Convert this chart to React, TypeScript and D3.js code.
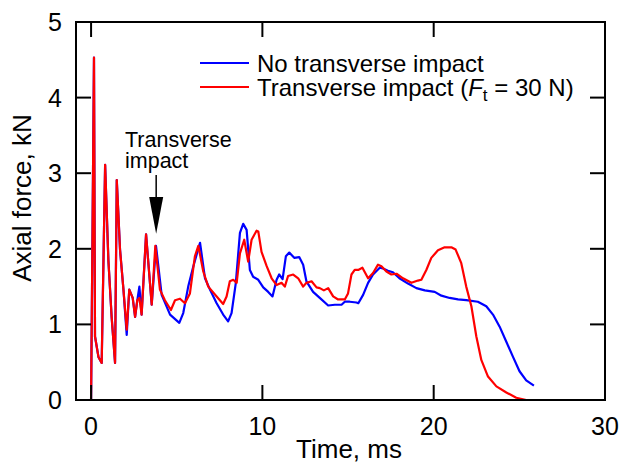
import React from "react";
import * as d3 from "d3";

// [time (ms), axial force (kN)]
const noImpact: [number, number][] = [
  [0, 0], [0.17, 4.53], [0.23, 0.84], [0.43, 0.57], [0.62, 0.49], [0.82, 3.11], [1.01, 1.85],
  [1.2, 1.1], [1.4, 0.49], [1.5, 2.91], [1.69, 1.99], [1.89, 1.46], [2.08, 0.86], [2.23, 1.46],
  [2.43, 1.35], [2.57, 1.1], [2.7, 1.32], [2.82, 1.5], [2.95, 1.13], [3.21, 2.19], [3.54, 1.26],
  [3.79, 2.04], [4.12, 1.39], [4.61, 1.13], [5.15, 1.02], [5.38, 1.15], [5.67, 1.5], [5.97, 1.77],
  [6.36, 2.08], [6.65, 1.61], [6.94, 1.46], [7.33, 1.28], [7.71, 1.13], [8.0, 1.04], [8.2, 1.15],
  [8.45, 1.55], [8.69, 2.21], [8.88, 2.33], [9.08, 2.25], [9.27, 1.72], [9.46, 1.63], [9.76, 1.59],
  [10.05, 1.49], [10.34, 1.43], [10.59, 1.37], [10.83, 1.59], [10.98, 1.66], [11.18, 1.6],
  [11.37, 1.9], [11.57, 1.95], [11.86, 1.88], [12.15, 1.89], [12.38, 1.79], [12.57, 1.57],
  [12.96, 1.43], [13.35, 1.35], [13.84, 1.25], [14.23, 1.26], [14.62, 1.26], [14.81, 1.3],
  [15.1, 1.3], [15.49, 1.29], [15.6, 1.28], [15.88, 1.39], [16.17, 1.55], [16.46, 1.66],
  [16.85, 1.75], [17.04, 1.74], [17.33, 1.71], [17.62, 1.69], [18.0, 1.61], [18.5, 1.54],
  [18.99, 1.48], [19.48, 1.45], [20.06, 1.43], [20.45, 1.38], [20.93, 1.35], [21.42, 1.33],
  [21.9, 1.32], [22.58, 1.3], [23.07, 1.24], [23.46, 1.13], [23.85, 0.97], [24.24, 0.77],
  [24.63, 0.57], [25.01, 0.38], [25.4, 0.26], [25.85, 0.19],
];

const withImpact: [number, number][] = [
  [0, 0], [0.17, 4.53], [0.23, 0.84], [0.43, 0.57], [0.62, 0.49], [0.82, 3.11], [1.01, 1.85],
  [1.2, 1.1], [1.4, 0.49], [1.5, 2.91], [1.69, 1.99], [1.89, 1.46], [2.08, 0.93], [2.23, 1.46],
  [2.43, 1.35], [2.57, 1.1], [2.7, 1.32], [2.82, 1.35], [2.95, 1.13], [3.21, 2.19], [3.54, 1.26],
  [3.75, 2.04], [4.02, 1.46], [4.31, 1.32], [4.66, 1.19], [4.9, 1.32], [5.19, 1.34], [5.48, 1.28],
  [5.77, 1.41], [6.06, 1.9], [6.26, 2.04], [6.55, 1.7], [6.84, 1.5], [7.33, 1.37], [7.71, 1.27],
  [7.91, 1.37], [8.1, 1.57], [8.3, 1.59], [8.5, 1.55], [8.69, 1.94], [8.94, 2.12], [9.17, 1.83],
  [9.37, 2.12], [9.66, 2.24], [9.76, 2.23], [9.95, 1.96], [10.25, 1.77], [10.54, 1.61],
  [10.83, 1.52], [11.12, 1.55], [11.31, 1.5], [11.5, 1.64], [11.8, 1.66], [12.09, 1.61],
  [12.38, 1.5], [12.57, 1.55], [12.87, 1.57], [13.16, 1.49], [13.35, 1.48], [13.59, 1.45],
  [13.84, 1.48], [14.13, 1.37], [14.42, 1.33], [14.81, 1.33], [15.0, 1.41], [15.2, 1.66],
  [15.39, 1.72], [15.59, 1.72], [15.84, 1.75], [16.17, 1.61], [16.46, 1.68], [16.75, 1.79],
  [16.95, 1.77], [17.24, 1.7], [17.53, 1.66], [17.83, 1.67], [18.21, 1.61], [18.7, 1.55],
  [19.08, 1.58], [19.28, 1.59], [19.57, 1.72], [19.86, 1.88], [20.25, 1.98], [20.64, 2.02],
  [21.03, 2.02], [21.28, 1.99], [21.61, 1.81], [21.9, 1.5], [22.2, 1.24], [22.49, 0.84],
  [22.78, 0.53], [23.17, 0.31], [23.66, 0.18], [24.24, 0.1], [24.82, 0.03], [25.4, 0.0], [25.8, 0.0],
];

const xTicks = [0, 10, 20, 30];
const yTicks = [0, 1, 2, 3, 4, 5];
const seriesLabels = ["No transverse impact", "Transverse impact ("];
const annotationLines = ["Transverse", "impact"];

const W = 619;
const H = 465;
const left = 76;
const right = 605;
const top = 22;
const bottom = 400;
const FONT = "'Liberation Sans', Arial, sans-serif";

export default function App() {
  const x = d3.scaleLinear().domain([-0.88, 30]).range([left, right]);
  const y = d3.scaleLinear().domain([0, 5]).range([bottom, top]);
  const line = d3
    .line<[number, number]>()
    .x((d) => x(d[0]))
    .y((d) => y(d[1]));

  const tickLen = 15;
  const tipX = x(3.8);
  const tipY = y(2.2);

  return (
    <svg
      width={W}
      height={H}
      style={{ position: "absolute", left: 0, top: 0, background: "#fff" }}
      fontFamily={FONT}
    >
      <rect x={0} y={0} width={W} height={H} fill="#fff" />
      <defs>
        <clipPath id="plot">
          <rect x={left} y={top} width={right - left} height={bottom - top} />
        </clipPath>
      </defs>
      <g clipPath="url(#plot)">
        <path d={line(noImpact) || ""} fill="none" stroke="#0000ff" strokeWidth={2.2} strokeLinejoin="round" />
        <path d={line(withImpact) || ""} fill="none" stroke="#ff0000" strokeWidth={2.2} strokeLinejoin="round" />
      </g>

      {/* ticks */}
      {xTicks.map((t) => (
        <g key={"xt" + t}>
          <line x1={x(t)} x2={x(t)} y1={bottom} y2={bottom - tickLen} stroke="#000" strokeWidth={2} />
          <line x1={x(t)} x2={x(t)} y1={top} y2={top + tickLen} stroke="#000" strokeWidth={2} />
          <text x={x(t)} y={bottom + 35} fontSize={25} textAnchor="middle">
            {t}
          </text>
        </g>
      ))}
      {yTicks.map((t) => (
        <g key={"yt" + t}>
          <line x1={left} x2={left + tickLen} y1={y(t)} y2={y(t)} stroke="#000" strokeWidth={2} />
          <line x1={right} x2={right - tickLen} y1={y(t)} y2={y(t)} stroke="#000" strokeWidth={2} />
          <text x={left - 14} y={y(t) + 9} fontSize={25} textAnchor="end">
            {t}
          </text>
        </g>
      ))}
      <rect x={left} y={top} width={right - left} height={bottom - top} fill="none" stroke="#000" strokeWidth={2} />

      {/* axis titles */}
      <text x={349} y={458} fontSize={26} textAnchor="middle">
        Time, ms
      </text>
      <text
        transform={`translate(31, 198) rotate(-90)`}
        fontSize={26}
        textAnchor="middle"
      >
        Axial force, kN
      </text>

      {/* legend */}
      <line x1={200} x2={249} y1={63} y2={63} stroke="#0000ff" strokeWidth={2} />
      <line x1={200} x2={249} y1={87} y2={87} stroke="#ff0000" strokeWidth={2} />
      <text x={257} y={72} fontSize={24}>
        <tspan x={257} y={72}>{seriesLabels[0]}</tspan>
        <tspan x={257} y={96}>{seriesLabels[1]}</tspan>
        <tspan fontStyle="italic">F</tspan>
        <tspan fontSize={17} dy={5}>t</tspan>
        <tspan dy={-5}> = 30 N)</tspan>
      </text>

      {/* annotation */}
      <text x={125} y={147} fontSize={21.5}>
        <tspan x={125} y={147}>{annotationLines[0]}</tspan>
        <tspan x={125} y={168}>{annotationLines[1]}</tspan>
      </text>
      <line x1={tipX} x2={tipX} y1={175} y2={198} stroke="#000" strokeWidth={1.5} />
      <path d={`M${tipX - 7},197 L${tipX + 7},197 L${tipX},${tipY} Z`} fill="#000" />
    </svg>
  );
}
